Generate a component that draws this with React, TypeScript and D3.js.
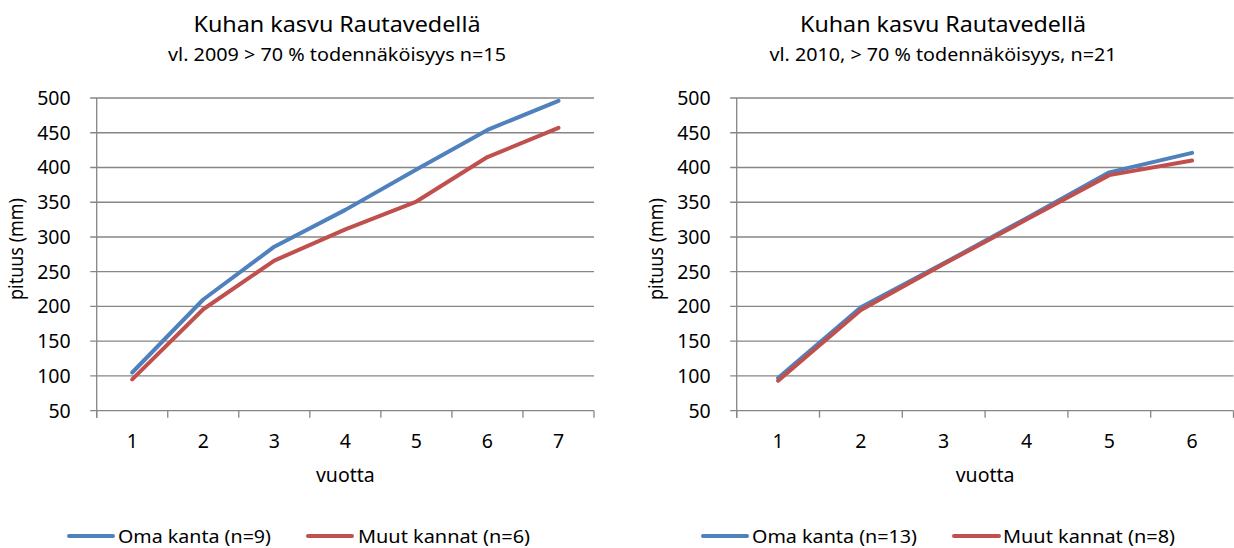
import React from "react";
import * as d3 from "d3";

// ---- Data ----
const years2009 = ["1", "2", "3", "4", "5", "6", "7"];
const omaKanta2009 = [105, 210, 286, 339, 397, 454, 496];
const muutKannat2009 = [95, 196, 266, 311, 351, 415, 457];

const years2010 = ["1", "2", "3", "4", "5", "6"];
const omaKanta2010 = [97, 199, 262, 327, 393, 421];
const muutKannat2010 = [93, 195, 261, 325, 389, 410];

const yTicks = [50, 100, 150, 200, 250, 300, 350, 400, 450, 500];

const titleText = "Kuhan kasvu Rautavedellä";
const subtitle2009 = "vl. 2009 > 70 % todennäköisyys n=15";
const subtitle2010 = "vl. 2010, > 70 % todennäköisyys, n=21";
const legend2009 = ["Oma kanta (n=9)", "Muut kannat (n=6)"];
const legend2010 = ["Oma kanta (n=13)", "Muut kannat (n=8)"];
const yAxisTitle = "pituus (mm)";
const xAxisTitle = "vuotta";

// ---- Style ----
const BLUE = "#4F81BD";
const RED = "#C0504D";
const GRID = "#868686";
const FONT = "'Noto Sans', 'Open Sans', sans-serif";

type ChartProps = {
  x0: number;
  x1: number;
  categories: string[];
  series: { values: number[]; color: string }[];
  titleX: number;
  titleLen: number;
  subtitle: string;
  subtitleLen: number;
  legend: { label: string; color: string; lineX0: number; lineX1: number; textX: number; textLen: number }[];
};

function Chart(p: ChartProps) {
  const yTop = 98;
  const yBottom = 410.7;
  const x = d3.scaleBand<string>().domain(p.categories).range([p.x0, p.x1]).paddingInner(0).paddingOuter(0);
  const y = d3.scaleLinear().domain([50, 500]).range([yBottom, yTop]);
  const line = d3
    .line<number>()
    .x((_, i) => (x(p.categories[i]) as number) + x.bandwidth() / 2)
    .y((d) => y(d));
  const edges = p.categories.map((c) => x(c) as number).concat([p.x1]);
  const midX = (p.x0 + p.x1) / 2;
  const yTitleX = p.x0 - 80;
  return (
    <g fontFamily={FONT} fill="#000">
      <text x={p.titleX} y={31.7} textAnchor="middle" fontSize={22} textLength={p.titleLen} lengthAdjust="spacingAndGlyphs">
        {titleText}
      </text>
      <text x={p.titleX} y={60.7} textAnchor="middle" fontSize={18} textLength={p.subtitleLen} lengthAdjust="spacingAndGlyphs">
        {p.subtitle}
      </text>
      {/* grid lines */}
      {yTicks.map((t) => (
        <line key={"g" + t} x1={p.x0 - 6.5} x2={p.x1} y1={y(t)} y2={y(t)} stroke={GRID} strokeWidth={1.3} />
      ))}
      {/* y axis */}
      <line x1={p.x0} x2={p.x0} y1={yTop} y2={yBottom + 7} stroke={GRID} strokeWidth={1.3} />
      {yTicks.map((t) => (
        <text key={"yl" + t} x={p.x0 - 26} y={y(t)} dy="0.35em" textAnchor="end" fontSize={19.5}>
          {t}
        </text>
      ))}
      {/* x ticks */}
      {edges.map((e, i) => (
        <line key={"xt" + i} x1={e} x2={e} y1={yBottom} y2={yBottom + 7} stroke={GRID} strokeWidth={1.3} />
      ))}
      {p.categories.map((c) => (
        <text key={"xl" + c} x={(x(c) as number) + x.bandwidth() / 2} y={448.3} textAnchor="middle" fontSize={19.5}>
          {c}
        </text>
      ))}
      <text x={midX} y={481.7} textAnchor="middle" fontSize={19.5}>
        {xAxisTitle}
      </text>
      <text
        transform={`translate(${yTitleX + 6.5},${249}) rotate(-90)`}
        textAnchor="middle"
        fontSize={19.5}
        textLength={102}
        lengthAdjust="spacingAndGlyphs"
      >
        {yAxisTitle}
      </text>
      {/* series */}
      {p.series.map((s, i) => (
        <path
          key={"s" + i}
          d={line(s.values) as string}
          fill="none"
          stroke={s.color}
          strokeWidth={4}
          strokeLinecap="round"
          strokeLinejoin="round"
        />
      ))}
      {/* legend */}
      {p.legend.map((l, i) => (
        <g key={"lg" + i}>
          <line x1={l.lineX0} x2={l.lineX1} y1={536} y2={536} stroke={l.color} strokeWidth={4} strokeLinecap="round" />
          <text x={l.textX} y={542.5} fontSize={18.5} textLength={l.textLen} lengthAdjust="spacingAndGlyphs">
            {l.label}
          </text>
        </g>
      ))}
    </g>
  );
}

export default function App() {
  return (
    <svg
      width={1234}
      height={548}
      style={{ position: "absolute", left: 0, top: 0, background: "#fff" }}
    >
      <rect x={0} y={0} width={1234} height={548} fill="#fff" />
      <Chart
        x0={96.7}
        x1={594}
        categories={years2009}
        series={[
          { values: omaKanta2009, color: BLUE },
          { values: muutKannat2009, color: RED },
        ]}
        titleX={337}
        titleLen={287}
        subtitle={subtitle2009}
        subtitleLen={338}
        legend={[
          { label: legend2009[0], color: BLUE, lineX0: 69, lineX1: 113, textX: 118, textLen: 153 },
          { label: legend2009[1], color: RED, lineX0: 308, lineX1: 352, textX: 358, textLen: 172 },
        ]}
      />
      <Chart
        x0={736.7}
        x1={1233.5}
        categories={years2010}
        series={[
          { values: omaKanta2010, color: BLUE },
          { values: muutKannat2010, color: RED },
        ]}
        titleX={943}
        titleLen={286}
        subtitle={subtitle2010}
        subtitleLen={347}
        legend={[
          { label: legend2010[0], color: BLUE, lineX0: 703, lineX1: 747, textX: 752, textLen: 165 },
          { label: legend2010[1], color: RED, lineX0: 954, lineX1: 999, textX: 1003, textLen: 172 },
        ]}
      />
    </svg>
  );
}
